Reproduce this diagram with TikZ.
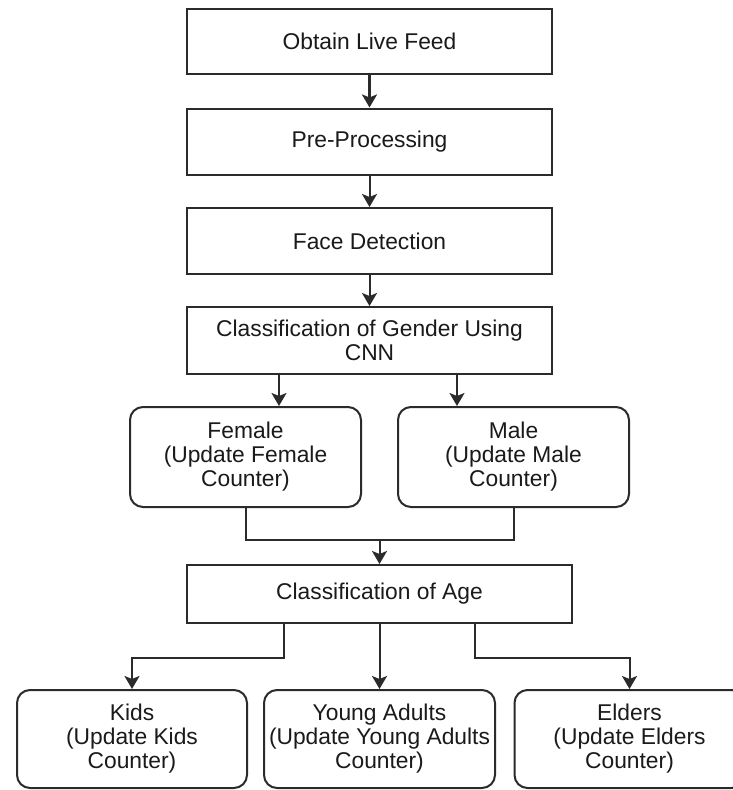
\documentclass[tikz,border=0pt]{standalone}
\usepackage{fontspec}
\setmainfont{Liberation Sans}
\usetikzlibrary{arrows.meta,calc}

\definecolor{edge}{HTML}{2B2B2B}
\definecolor{ink}{HTML}{1A1A1A}

\tikzset{
  every node/.style={font=\fontsize{22.8}{24}\selectfont, text=ink, align=center, inner sep=0pt},
  stepbox/.style={draw=edge, line width=2pt, rectangle, minimum width=365pt, minimum height=66pt},
  resultbox/.style={draw=edge, line width=2pt, rectangle, rounded corners=13pt, minimum width=231pt, minimum height=100pt},
  conn/.style={draw=edge, line width=2pt},
  arr/.style={conn, -{Stealth[length=13pt, width=15pt, inset=3pt]}},
}

\begin{document}
\begin{tikzpicture}[x=1pt, y=-1pt]
  \clip (0,0) rectangle (733,790);
  \fill[white] (0,0) rectangle (733,790);

  % main pipeline
  \node[stepbox, minimum height=65pt] (feed) at (369.5,41.5) {Obtain Live Feed};
  \node[stepbox] (pre)  at (369.5,141.5) {Pre-Processing};
  \node[stepbox] (face) at (369.5,241) {Face Detection};
  \node[stepbox, minimum height=67pt] (gender) at (369.5,340.5) {Classification of Gender Using\\CNN};

  % gender outcomes
  \node[resultbox] (female) at (245.5,457) {Female\\(Update Female\\Counter)};
  \node[resultbox] (male)   at (513.5,457) {Male\\(Update Male\\Counter)};

  % age classification
  \node[stepbox, minimum width=385pt, minimum height=58pt] (age) at (379.5,594) {Classification of Age};

  % age outcomes
  \node[resultbox, minimum width=230pt, minimum height=98pt] (kids)   at (132,739)   {Kids\\(Update Kids\\Counter)};
  \node[resultbox, minimum width=231pt, minimum height=98pt] (young)  at (379.5,739) {Young Adults\\(Update Young Adults\\Counter)};
  \node[resultbox, minimum width=230pt, minimum height=98pt] (elders) at (629.5,739) {Elders\\(Update Elders\\Counter)};

  % pipeline arrows
  \draw[arr, line width=3pt] (feed) -- (pre);
  \draw[arr] (pre) -- (face);
  \draw[arr] (face) -- (gender);

  % split by gender
  \draw[arr] ([xshift=-90.5pt]gender.south) -- ([xshift=-90.5pt]gender.south |- female.north);
  \draw[arr] ([xshift=87.5pt]gender.south) -- ([xshift=87.5pt]gender.south |- male.north);

  % merge into age classification
  \coordinate (merge) at (379.5,540);
  \draw[conn] (female.south) |- (merge) -| (male.south);
  \draw[arr] (merge) -- (age.north);

  % split by age
  \draw[arr] ([xshift=-95.5pt]age.south) -- ++(0,34) -| (kids.north);
  \draw[arr] (age.south) -- (young.north);
  \draw[arr] ([xshift=95.5pt]age.south) -- ++(0,34) -| (elders.north);
\end{tikzpicture}
\end{document}
